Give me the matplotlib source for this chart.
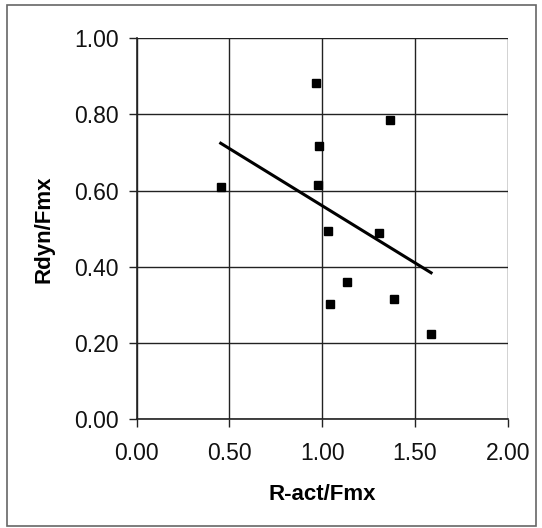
import numpy as np
import matplotlib
matplotlib.use("Agg")
import matplotlib.pyplot as plt
from matplotlib.patches import Rectangle

plt.rcParams['font.family'] = ['Liberation Sans', 'DejaVu Sans']

# R-act/Fmx vs Rdyn/Fmx
r_act = [0.965, 1.366, 0.985, 0.453, 0.979, 1.033, 1.308, 1.132, 1.042, 1.387, 1.587]
r_dyn = [0.883, 0.786, 0.717, 0.609, 0.615, 0.495, 0.488, 0.360, 0.303, 0.315, 0.224]

x_ticks = [0.0, 0.5, 1.0, 1.5, 2.0]
y_ticks = [0.0, 0.2, 0.4, 0.6, 0.8, 1.0]

x = np.array(r_act)
y = np.array(r_dyn)
k, d = np.polyfit(x, y, 1)
xl = np.array([x.min(), x.max()])

fig = plt.figure(figsize=(5.42, 5.28), dpi=100)
fig.patch.set_facecolor("white")
fig.add_artist(Rectangle((7 / 542, 2 / 528), 529 / 542, 521 / 528,
                         transform=fig.transFigure, fill=False,
                         edgecolor="#666666", linewidth=1.2))

ax = fig.add_axes([0.2522, 0.2059, 0.6845, 0.7216])
ax.set_xlim(0, 2)
ax.set_ylim(0, 1)
ax.set_xticks(x_ticks)
ax.set_yticks(y_ticks)
ax.xaxis.set_major_formatter(matplotlib.ticker.FormatStrFormatter("%.2f"))
ax.yaxis.set_major_formatter(matplotlib.ticker.FormatStrFormatter("%.2f"))
ax.grid(True, color="#222222", linewidth=1.0)
ax.set_axisbelow(True)

for s in ["top", "right"]:
    ax.spines[s].set_visible(False)
for s in ["left", "bottom"]:
    ax.spines[s].set_color("#222222")
    ax.spines[s].set_linewidth(1.2)

ax.tick_params(axis="both", direction="out", length=6, width=1.0, color="#222222",
               labelsize=16.5, labelcolor="#111111")
ax.tick_params(axis="x", pad=10)
ax.tick_params(axis="y", pad=7)

ax.plot(x, y, "s", color="black", markersize=5.5, clip_on=False, zorder=3)
ax.plot(xl, k * xl + d, color="black", linewidth=2.2, zorder=3)

ax.set_xlabel("R-act/Fmx", fontsize=16, fontweight="bold", labelpad=14)
ax.set_ylabel("Rdyn/Fmx", fontsize=16, fontweight="bold", labelpad=14)

fig.savefig("out.png", dpi=100)
